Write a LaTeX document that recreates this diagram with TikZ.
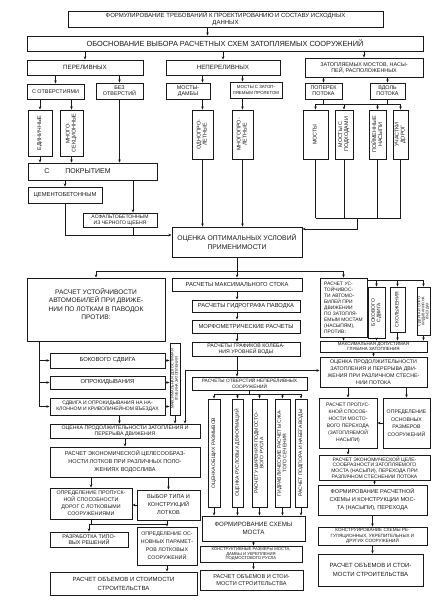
\documentclass[tikz,border=0pt]{standalone}
\usepackage{fontspec}
\setmainfont{Liberation Sans}
\usetikzlibrary{arrows.meta, calc}
\definecolor{zsInk}{HTML}{1A1A1A}
\newcommand{\vtxt}[1]{\rotatebox{90}{\begin{tabular}{@{}c@{}}#1\end{tabular}}}
\tikzset{
  zsbox/.style={draw=zsInk, line width=0.9pt, fill=white, text=zsInk,
    align=center, inner sep=1pt, font=\fontsize{5.4}{6}\selectfont},
  sz/.style 2 args={minimum width=#1pt, minimum height=#2pt},
  fs/.style 2 args={font=\fontsize{#1}{#2}\selectfont},
  zsedge/.style={-{Stealth[length=3.2pt, width=2.6pt]}, line width=0.6pt, draw=zsInk},
  zsline/.style={line width=0.6pt, draw=zsInk},
}

\begin{document}
\begin{tikzpicture}[x=1pt, y=-1pt]
  \useasboundingbox (0,0) rectangle (440,601);

  % --- Header -------------------------------------------------------------
  \node[zsbox, sz={315}{16}, fs={6}{6.6}] (req) at (225.5,19)
    {ФОРМУЛИРОВАНИЕ ТРЕБОВАНИЙ К ПРОЕКТИРОВАНИЮ И СОСТАВУ ИСХОДНЫХ\\ДАННЫХ};
  \node[zsbox, sz={396}{15}, fs={7.4}{8}] (basis) at (225,43.5)
    {ОБОСНОВАНИЕ ВЫБОРА РАСЧЕТНЫХ СХЕМ ЗАТОПЛЯЕМЫХ СООРУЖЕНИЙ};

  % --- Structure types ----------------------------------------------------
  \node[zsbox, sz={116}{15}, fs={6.2}{7}] (perel) at (85,67.5) {ПЕРЕЛИВНЫХ};
  \node[zsbox, sz={114}{15}, fs={6.2}{7}] (neper) at (223,67.5) {НЕПЕРЕЛИВНЫХ};
  \node[zsbox, sz={118}{19}] (zatop) at (364,67.5) {ЗАТОПЛЯЕМЫХ МОСТОВ, НАСЫ-\\ПЕЙ, РАСПОЛОЖЕННЫХ};

  \node[zsbox, sz={57}{15}] (sotv) at (55.5,91.5) {С ОТВЕРСТИЯМИ};
  \node[zsbox, sz={47}{16}] (bezotv) at (119.5,91) {БЕЗ\\ОТВЕРСТИЙ};
  \node[zsbox, sz={44}{16}] (mdamb) at (188,91) {МОСТЫ-\\ДАМБЫ};
  \node[zsbox, sz={52}{16}, fs={4.4}{5.2}] (mzat) at (256,90) {МОСТЫ С ЗАТОП-\\ЛЯЕМЫМ ПРОЛЕТОМ};
  \node[zsbox, sz={37}{16}] (popp) at (323.5,91) {ПОПЕРЕК\\ПОТОКА};
  \node[zsbox, sz={35}{16}] (vdol) at (387.5,91) {ВДОЛЬ\\ПОТОКА};

  % vertical boxes
  \node[zsbox, sz={24}{46}] (edin) at (40,133) {\vtxt{ЕДИНИЧНЫЕ}};
  \node[zsbox, sz={23}{46}] (mnsek) at (71.5,133) {\vtxt{МНОГО-\\СЕКЦИОННЫЕ}};
  \node[zsbox, sz={21}{49}] (odnopr) at (202.5,134.5) {\vtxt{ОДНОПРО-\\ЛЕТНЫЕ}};
  \node[zsbox, sz={21}{49}] (mnpr) at (242.5,134.5) {\vtxt{МНОГОПРО-\\ЛЕТНЫЕ}};
  \node[zsbox, sz={25}{49}] (mosty) at (315.5,134.5) {\vtxt{МОСТЫ}};
  \node[zsbox, sz={18}{49}] (mpodh) at (344,134.5) {\vtxt{МОСТЫ С\\ПОДХОДАМИ}};
  \node[zsbox, sz={17}{49}] (poym) at (377.5,134.5) {\vtxt{ПОЙМЕННЫЕ\\НАСЫПИ}};
  \node[zsbox, sz={15}{49}] (uch) at (400.5,134.5) {\vtxt{УЧАСТКИ\\ДОРОГ}};

  % paving
  \node[zsbox, sz={129}{17}, fs={7}{8}] (spokr) at (92.5,171.5) {\hspace{-30pt}С\hspace{16pt}ПОКРЫТИЕМ};
  \node[zsbox, sz={74}{16}, fs={5.8}{6.4}] (cem) at (65,195) {ЦЕМЕНТОБЕТОННЫМ};
  \node[zsbox, sz={74}{14}, fs={5.1}{5.6}] (asf) at (120,220) {АСФАЛЬТОБЕТОННЫМ\\ИЗ ЧЕРНОГО ЩЕБНЯ};
  \node[zsbox, sz={130}{30}, fs={6.8}{9}] (ocopt) at (237,242) {ОЦЕНКА ОПТИМАЛЬНЫХ УСЛОВИЙ\\ПРИМЕНИМОСТИ};

  % --- Left column (overflow structures) ----------------------------------
  \node[zsbox, sz={138}{63}, label={[fs={6.6}{8.6}, align=center, anchor=north,
      yshift=-7pt, text=zsInk]north:{РАСЧЕТ УСТОЙЧИВОСТИ\\АВТОМОБИЛЕЙ ПРИ ДВИЖЕ-\\НИИ ПО ЛОТКАМ В ПАВОДОК\\ПРОТИВ:}}]
    (ustL) at (96,309.5) {};
  \node[zsbox, sz={115}{15}, fs={5.8}{6.4}] (bok) at (107.5,360.5) {БОКОВОГО СДВИГА};
  \node[zsbox, sz={115}{13}, fs={5.8}{6.4}] (opr) at (107.5,382.5) {ОПРОКИДЫВАНИЯ};
  \node[zsbox, sz={115}{17}, fs={5}{5.8}] (sdv) at (107.5,406.5)
    {СДВИГА И ОПРОКИДЫВАНИЯ НА НА-\\КЛОННОМ И КРИВОЛИНЕЙНОМ ВЪЕЗДАХ};
  \node[zsbox, sz={10}{72}, fs={3.8}{4.2}, inner sep=0pt] (glubL) at (175,379)
    {\vtxt{МАКСИМАЛЬНАЯ ДОПУСТИМАЯ\\ГЛУБИНА ЗАТОПЛЕНИЯ}};
  \node[zsbox, sz={150}{14}, fs={5.2}{5.9}] (prodL) at (125,431)
    {ОЦЕНКА ПРОДОЛЖИТЕЛЬНОСТИ ЗАТОПЛЕНИЯ И\\ПЕРЕРЫВА ДВИЖЕНИЯ};
  \node[zsbox, sz={150}{30}, fs={5.6}{8}] (ekonL) at (125,462)
    {РАСЧЕТ ЭКОНОМИЧЕСКОЙ ЦЕЛЕСООБРАЗ-\\НОСТИ ЛОТКОВ ПРИ РАЗЛИЧНЫХ ПОЛО-\\ЖЕНИЯХ ВОДОСЛИВА};
  \node[zsbox, sz={82}{31}, fs={5.3}{7}] (propL) at (91,503.5)
    {ОПРЕДЕЛЕНИЕ ПРОПУСК-\\НОЙ СПОСОБНОСТИ\\ДОРОГ С ЛОТКОВЫМИ\\СООРУЖЕНИЯМИ};
  \node[zsbox, sz={63}{30}, fs={5.6}{8}] (vybor) at (168.5,505) {ВЫБОР ТИПА И\\КОНСТРУКЦИЙ\\ЛОТКОВ};
  \node[zsbox, sz={78}{15}, fs={5.4}{6.2}] (razr) at (89,539.5) {РАЗРАБОТКА ТИПО-\\ВЫХ РЕШЕНИЙ};
  \node[zsbox, sz={60}{38}, fs={5.3}{8}] (osnL) at (167,546)
    {ОПРЕДЕЛЕНИЕ ОС-\\НОВНЫХ ПАРАМЕТ-\\РОВ ЛОТКОВЫХ\\СООРУЖЕНИЙ};
  \node[zsbox, sz={147}{23}, fs={6}{9}] (stoiL) at (123.5,583.5) {РАСЧЕТ ОБЪЕМОВ И СТОИМОСТИ\\СТРОИТЕЛЬСТВА};

  % --- Middle column (non-overflow structures) ----------------------------
  \node[zsbox, sz={130}{13}, fs={5.8}{6.4}] (maxst) at (237,284.5) {РАСЧЕТЫ МАКСИМАЛЬНОГО СТОКА};
  \node[zsbox, sz={108}{12}, fs={5.8}{6.4}] (gidr) at (246,306) {РАСЧЕТЫ ГИДРОГРАФА ПАВОДКА};
  \node[zsbox, sz={108}{13}, fs={5.8}{6.4}] (morf) at (246,326.5) {МОРФОМЕТРИЧЕСКИЕ РАСЧЕТЫ};
  \node[zsbox, sz={108}{14}, fs={5.2}{5.9}] (graf) at (246,349) {РАСЧЕТЫ ГРАФИКОВ КОЛЕБА-\\НИЯ УРОВНЕЙ ВОДЫ};
  \node[zsbox, sz={115}{13}, fs={4.8}{5.5}] (otv) at (249.5,383.5) {РАСЧЕТЫ ОТВЕРСТИЙ НЕПЕРЕЛИВНЫХ\\СООРУЖЕНИЙ};
  \node[zsbox, sz={12}{108}, fs={5}{5.6}] (v1) at (214,453) {\vtxt{ОЦЕНКА ОБЩИХ РАЗМЫВОВ}};
  \node[zsbox, sz={11}{108}, fs={5}{5.6}] (v2) at (237.5,453) {\vtxt{ОЦЕНКА РУСЛОВЫХ ДЕФОРМАЦИЙ}};
  \node[zsbox, sz={15}{108}, fs={5}{5.6}] (v3) at (259.5,453) {\vtxt{РАСЧЕТ УШИРЕНИЯ ПОДМОСТО-\\ВОГО РУСЛА}};
  \node[zsbox, sz={15}{108}, fs={5}{5.6}] (v4) at (282.5,453) {\vtxt{ГИДРАВЛИЧЕСКИЕ РАСЧЕТЫ СЖА-\\ТОГО СЕЧЕНИЯ}};
  \node[zsbox, sz={12}{108}, fs={5}{5.6}] (v5) at (301,453) {\vtxt{РАСЧЕТ ПОДПОРА И НАБЕГА ВОДЫ}};
  \node[zsbox, sz={103}{25}, fs={6.2}{8.5}] (form) at (253.5,528.5) {ФОРМИРОВАНИЕ СХЕМЫ\\МОСТА};
  \node[zsbox, sz={102}{16}, fs={4.2}{4.8}] (konstr) at (251,554)
    {КОНСТРУКТИВНЫЕ РАЗМЕРЫ МОСТА,\\ДАМБЫ И УКРЕПЛЕНИЯ\\ПОДМОСТОВОГО РУСЛА};
  \node[zsbox, sz={103}{20}, fs={5.6}{7.5}] (stoiM) at (251.5,580) {РАСЧЕТ ОБЪЕМОВ И СТОИ-\\МОСТИ СТРОИТЕЛЬСТВА};

  % --- Right column (submersible bridges and embankments) -----------------
  \node[zsbox, sz={47}{59}, fs={4.9}{6}, align=left] (ustR) at (343.5,307.5)
    {РАСЧЕТ УС-\\ТОЙЧИВОС-\\ТИ АВТОМО-\\БИЛЕЙ ПРИ\\ДВИЖЕНИИ\\ПО ЗАТОПЛЯ-\\ЕМЫМ МОСТАМ\\(НАСЫПЯМ),\\ПРОТИВ:};
  \node[zsbox, sz={17}{51}, fs={5}{5.6}] (rv1) at (376.5,312.5) {\vtxt{БОКОВОГО\\СДВИГА}};
  \node[zsbox, sz={15}{45}, fs={5}{5.6}] (rv2) at (397.5,309.5) {\vtxt{СКОЛЬЖЕНИЯ}};
  \node[zsbox, sz={13}{48}, fs={3.6}{4}, inner sep=0pt] (rv3) at (423.5,311) {\vtxt{СДВИГА И ОПРО-\\КИДЫВАНИЯ НА\\ВЪЕЗДАХ}};
  \node[zsbox, sz={107}{11}, fs={4.5}{5}] (glubR) at (373.5,346.5) {МАКСИМАЛЬНАЯ ДОПУСТИМАЯ\\ГЛУБИНА ЗАТОПЛЕНИЯ};
  \node[zsbox, sz={107}{30}, fs={5.3}{6.8}] (prodR) at (373.5,372)
    {ОЦЕНКА ПРОДОЛЖИТЕЛЬНОСТИ\\ЗАТОПЛЕНИЯ И ПЕРЕРЫВА ДВИ-\\ЖЕНИЯ ПРИ РАЗЛИЧНОМ СТЕСНЕ-\\НИИ ПОТОКА};
  \node[zsbox, sz={58}{50}, fs={5}{7}] (propR) at (348,423)
    {РАСЧЕТ ПРОПУС-\\КНОЙ СПОСОБ-\\НОСТИ МОСТО-\\ВОГО ПЕРЕХОДА\\(ЗАТОПЛЯЕМОЙ\\НАСЫПИ)};
  \node[zsbox, sz={47}{50}, fs={5.2}{7.5}] (osnR) at (406.5,423) {ОПРЕДЕЛЕНИЕ\\ОСНОВНЫХ\\РАЗМЕРОВ\\СООРУЖЕНИЙ};
  \node[zsbox, sz={111}{25}, fs={5}{5.8}] (ekonR) at (374.5,467.5)
    {РАСЧЕТ ЭКОНОМИЧЕСКОЙ ЦЕЛЕ-\\СООБРАЗНОСТИ ЗАТОПЛЯЕМОГО\\МОСТА (НАСЫПИ), ПЕРЕХОДА ПРИ\\РАЗЛИЧНОМ СТЕСНЕНИИ ПОТОКА};
  \node[zsbox, sz={109}{30}, fs={5.6}{8}] (formR) at (372.5,500)
    {ФОРМИРОВАНИЕ РАСЧЕТНОЙ\\СХЕМЫ И КОНСТРУКЦИИ МОС-\\ТА (НАСЫПИ), ПЕРЕХОДА};
  \node[zsbox, sz={109}{18}, fs={4.6}{5.3}] (konR) at (372.5,536)
    {КОНСТРУИРОВАНИЕ СХЕМЫ РЕ-\\ГУЛЯЦИОННЫХ, УКРЕПИТЕЛЬНЫХ И\\ДРУГИХ СООРУЖЕНИЙ};
  \node[zsbox, sz={105}{32}, fs={6}{9}] (stoiR) at (370.5,570) {РАСЧЕТ ОБЪЕМОВ И СТОИ-\\МОСТИ СТРОИТЕЛЬСТВА};

  % --- Upper connectors ---------------------------------------------------
  \draw[zsedge] ([xshift=-18pt]req.south) -- ([xshift=-18pt]req.south |- basis.north);
  \foreach \n in {perel, neper, zatop}
    \draw[zsedge] (basis.south -| \n.north) -- (\n.north);
  \draw[zsedge] (perel.south -| sotv.north) -- (sotv.north);
  \draw[zsedge] (perel.south -| bezotv.north) -- (bezotv.north);
  \draw[zsedge] (neper.south -| odnopr.north) -- (mdamb.north -| odnopr.north);
  \draw[zsedge] (neper.south -| mnpr.north) -- (mzat.north -| mnpr.north);
  \draw[zsedge] (zatop.south -| popp.north) -- (popp.north);
  \draw[zsedge] (zatop.south -| vdol.north) -- (vdol.north);

  \draw[zsedge] (sotv.south -| edin.north) -- (edin.north);
  \draw[zsedge] (sotv.south -| mnsek.north) -- (mnsek.north);
  \draw[zsedge] (mdamb.south -| odnopr.north) -- (odnopr.north);
  \draw[zsedge] (mzat.south -| mnpr.north) -- (mnpr.north);
  \coordinate (jQ) at ($(popp.south)+(0,5)$);
  \draw[zsline] (popp.south) -- (jQ);
  \draw[zsline] (vdol.south) -- (vdol.south |- jQ);
  \draw[zsline] (jQ -| mosty.north) -- (jQ -| uch.north);
  \foreach \n in {mosty, mpodh, poym, uch}
    \draw[zsedge] (jQ -| \n.north) -- (\n.north);

  \foreach \n in {edin, mnsek, bezotv}
    \draw[zsedge] (\n.south) -- (\n.south |- spokr.north);
  \draw[zsedge] (spokr.south -| cem.north) -- (cem.north);
  \draw[zsedge] ([xshift=13pt]asf.north |- spokr.south) -- ([xshift=13pt]asf.north);

  % into the applicability assessment
  \coordinate (ocin) at ($(ocopt.west)+(0,-7)$);
  \coordinate (ocinR) at ($(ocopt.east)+(0,-13)$);
  \coordinate (jR) at ($(ocopt.east)+(55,-24)$);
  \draw[zsedge] (cem.south) |- (ocin);
  \draw[zsline] ([xshift=13pt]asf.south) -- ([xshift=13pt]asf.south |- ocin);
  \foreach \n in {odnopr, mnpr}
    \draw[zsedge] (\n.south) -- (\n.south |- ocopt.north);
  \foreach \n in {mosty, mpodh, poym, uch}
    \draw[zsline] (\n.south) -- (\n.south |- jR);
  \draw[zsline] (mosty.south |- jR) -- (uch.south |- jR);
  \draw[zsedge] (jR) |- (ocinR);

  % --- Lower connectors ---------------------------------------------------
  \coordinate (jA) at ($(ocopt.south)+(0,14)$);
  \draw[zsline] (ocopt.south) -- (jA);
  \draw[zsline] (jA -| ustL.north) -- (jA -| ustR.north);
  \foreach \n in {ustL, maxst, ustR}
    \draw[zsedge] (jA -| \n.north) -- (\n.north);

  % middle chain
  \coordinate (cx) at (maxst.south);
  \draw[zsedge] (maxst.south) -- (gidr.north -| cx);
  \draw[zsedge] (gidr.south -| cx) -- (morf.north -| cx);
  \draw[zsedge] (morf.south -| cx) -- (graf.north -| cx);
  \draw[zsedge] (graf.south -| cx) -- (otv.north -| cx);
  \coordinate (jG) at ($(graf.south -| cx)+(0,14)$);
  \draw[zsedge] (jG) -| ([xshift=60pt]prodL.north);
  \draw[zsedge] (jG) -- (jG -| prodR.west);
  \coordinate (jO) at ($(otv.south)+(0,4)$);
  \draw[zsline] (otv.south) -- (jO);
  \draw[zsline] (jO -| v1.north) -- (jO -| v5.north);
  \foreach \n in {v1, v2, v3, v4, v5} {
    \draw[zsedge] (jO -| \n.north) -- (\n.north);
    \draw[zsedge] (\n.south) -- (\n.south |- form.north);
  }
  \draw[zsedge] (form.south) -- (form.south |- konstr.north);
  \draw[zsedge] (form.south |- konstr.south) -- (form.south |- stoiM.north);

  % left column
  \coordinate (lL) at ($(ustL.south)+(-57,0)$);
  \draw[zsline] (lL) -- (lL |- sdv.west);
  \foreach \n in {bok, opr, sdv} {
    \draw[zsedge] (lL |- \n.west) -- (\n.west);
    \draw[zsedge] (\n.east) -- (\n.east -| glubL.west);
  }
  \draw[zsedge] ([xshift=12pt]sdv.south) -- ([xshift=12pt]sdv.south |- prodL.north);
  \draw[zsedge] (glubL.south) -- (glubL.south |- prodL.north);
  \draw[zsedge] (prodL.south) -- (ekonL.north);
  \draw[zsedge] (ekonL.south -| propL.north) -- (propL.north);
  \draw[zsedge] (ekonL.south -| vybor.north) -- (vybor.north);
  \draw[zsedge] (vybor.west) -- (vybor.west -| propL.east);
  \coordinate (jP) at ($(propL.south)+(0,5)$);
  \draw[zsline] (propL.south) -- (jP);
  \draw[zsline] (jP -| razr.north) -- (jP -| osnL.north);
  \draw[zsline] (vybor.south -| osnL.north) -- (jP -| osnL.north);
  \draw[zsedge] (jP -| razr.north) -- (razr.north);
  \draw[zsedge] (jP -| osnL.north) -- (osnL.north);
  \draw[zsedge] (osnL.south) -- (osnL.south |- stoiL.north);

  % right column
  \coordinate (jU) at ($(ustR.north east)+(0,3)$);
  \draw[zsline] (jU) -- (jU -| rv3.north);
  \foreach \n in {rv1, rv2, rv3} {
    \draw[zsedge] (jU -| \n.north) -- (\n.north);
    \draw[zsedge] (\n.south) -- (\n.south |- glubR.north);
  }
  \draw[zsedge] (ustR.south) -- (ustR.south |- glubR.north);
  \draw[zsedge] (glubR.south) -- (glubR.south |- prodR.north);
  \draw[zsedge] (prodR.south -| propR.north) -- (propR.north);
  \draw[zsedge] (prodR.south -| osnR.north) -- (osnR.north);
  \draw[zsedge] (osnR.west) -- (osnR.west -| propR.east);
  \draw[zsedge] (propR.south) -- (propR.south |- ekonR.north);
  \draw[zsedge] (ekonR.south) -- (ekonR.south |- formR.north);
  \draw[zsedge] (formR.south) -- (formR.south |- konR.north);
  \draw[zsedge] (konR.south) -- (konR.south |- stoiR.north);

\end{tikzpicture}
\end{document}
